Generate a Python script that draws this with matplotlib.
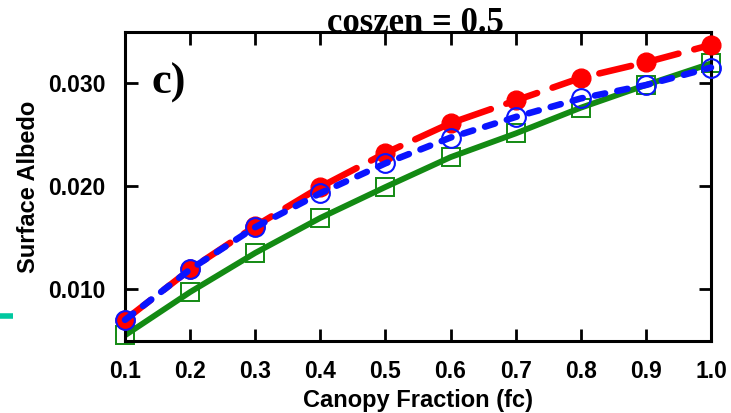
import matplotlib
matplotlib.use("Agg")
from matplotlib import pyplot as plt
from matplotlib.lines import Line2D

# canopy fraction and surface albedo for the three runs
fc = [0.1, 0.2, 0.3, 0.4, 0.5, 0.6, 0.7, 0.8, 0.9, 1.0]
albedo_red = [0.0070, 0.0119, 0.0161, 0.0199, 0.0232, 0.0261, 0.0283, 0.0305, 0.0320, 0.0337]
albedo_blue = [0.0070, 0.0119, 0.0160, 0.0193, 0.0222, 0.0247, 0.0267, 0.0285, 0.0298, 0.0315]
albedo_green = [0.0055, 0.0097, 0.0135, 0.0169, 0.0199, 0.0228, 0.0251, 0.0276, 0.0298, 0.0319]

x_ticks = [0.1, 0.2, 0.3, 0.4, 0.5, 0.6, 0.7, 0.8, 0.9, 1.0]
y_ticks = [0.010, 0.020, 0.030]

sans = ["Liberation Sans", "DejaVu Sans"]
serif = ["Liberation Serif", "DejaVu Serif"]

fig = plt.figure(figsize=(7.31, 4.13), dpi=100)
ax = fig.add_axes([125 / 731, 1 - 341 / 413, (711 - 125) / 731, (341 - 32) / 413])

# green solid line with open squares
ax.plot(fc, albedo_green, color="#138a13", lw=4.2, solid_capstyle="round", zorder=2)
ax.plot(fc, albedo_green, ls="none", marker="s", ms=13, mfc="none", mec="#138a13", mew=1.4,
        zorder=2, clip_on=False)

# red long dashes with filled circles
ax.plot(fc, albedo_red, color="#ff0000", lw=4.7, dashes=(5, 2.5), dash_capstyle="round",
        zorder=3, clip_on=False)
ax.plot(fc, albedo_red, ls="none", marker="o", ms=13.5, color="#ff0000", zorder=3, clip_on=False)

# blue short dashes with open circles
ax.plot(fc, albedo_blue, color="#0a14ff", lw=4.7, dashes=(1.6, 1.9), dash_capstyle="round",
        zorder=4, clip_on=False)
ax.plot(fc, albedo_blue, ls="none", marker="o", ms=13.5, mfc="none", mec="#0a14ff", mew=1.5,
        zorder=4, clip_on=False)

ax.set_xlim(0.1, 1.0)
ax.set_ylim(0.00495, 0.03495)
ax.set_xticks(x_ticks)
ax.set_xticklabels([f"{v:.1f}" for v in x_ticks], fontfamily=sans, fontweight="bold", fontsize=16.5)
ax.set_yticks(y_ticks)
ax.set_yticklabels([f"{v:.3f}" for v in y_ticks], fontfamily=sans, fontweight="bold", fontsize=16.5)
ax.tick_params(direction="in", length=9, width=2, top=True, right=True)
ax.tick_params(axis="x", pad=14)
ax.tick_params(axis="y", pad=14)

for side in ax.spines.values():
    side.set_linewidth(2.2)

ax.set_xlabel("Canopy Fraction (fc)", fontfamily=sans, fontweight="bold", fontsize=17, labelpad=4)
ax.set_ylabel("Surface Albedo", fontfamily=sans, fontweight="bold", fontsize=17, labelpad=6)

fig.text(415 / 731, 1 - 32 / 413, "coszen = 0.5", ha="center", va="baseline",
         fontfamily=serif, fontweight="bold", fontsize=25)
ax.text(0.045, 0.90, "c)", transform=ax.transAxes, ha="left", va="top",
        fontfamily=serif, fontweight="bold", fontsize=32)

# small teal mark at the left edge
fig.add_artist(Line2D([0, 13 / 731], [1 - 316 / 413] * 2, transform=fig.transFigure,
                      color="#00c8a0", lw=4, solid_capstyle="butt"))

fig.savefig("out.png", dpi=100)
